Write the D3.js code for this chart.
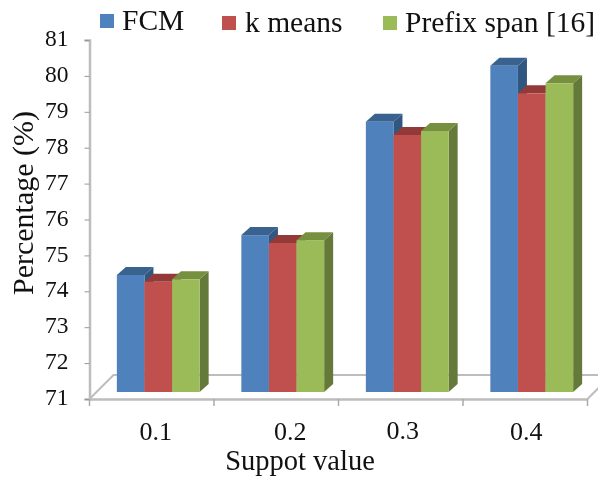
<!DOCTYPE html>
<html><head><meta charset="utf-8">
<script src="https://cdn.jsdelivr.net/npm/d3@7/dist/d3.min.js"></script>
<style>html,body{margin:0;background:#fff}svg{display:block;filter:blur(.5px)}text{font-family:"Liberation Serif",serif;fill:#111}</style>
</head><body><script>
const categories=["0.1","0.2","0.3","0.4"];
const seriesNames=["FCM","k means","Prefix span [16]"];
const fcm=[74.26,75.37,78.53,80.09];
const kmeans=[74.07,75.15,78.16,79.32];
const prefix=[74.14,75.23,78.27,79.6];
const yTicks=[71,72,73,74,75,76,77,78,79,80,81];
const seriesValues=[fcm,kmeans,prefix];
const front=["#4f81bd","#c0504d","#9bbb59"],top_=["#39628f","#933a38","#76903f"],side=["#315680","#7f3230","#64793a"];

const W=598,H=477;
const svg=d3.select("body").append("svg").attr("width",W).attr("height",H);
const y=d3.scaleLinear().domain([71,81]).range([399,40]);
const x=d3.scaleBand().domain(categories).range([89.5,587.5]);
const xs=d3.scaleBand().domain(d3.range(3)).range([0,82.8]);
const dx=6.5,dy=-7,depthX=9,depthY=8,floorD=24,grey="#bdbdbd";

// floor
svg.append("path").attr("fill","none").attr("stroke",grey).attr("stroke-width",2)
 .attr("d",`M${x.range()[0]},${y(71)}L${x.range()[0]+floorD},${y(71)-floorD}L${W},${y(71)-floorD}`);
svg.append("path").attr("fill","none").attr("stroke",grey).attr("stroke-width",2)
 .attr("d",`M${x.range()[1]},${y(71)}L${x.range()[1]+floorD},${y(71)-floorD}`);

// axes
const yAxis=svg.append("g").attr("transform",`translate(${x.range()[0]},0)`)
 .call(d3.axisLeft(y).tickValues(yTicks).tickSize(5).tickPadding(16));
yAxis.selectAll("text").attr("font-size",23.5).attr("dy","0.24em").style("font-family",'"Liberation Serif",serif');
const xAxis=svg.append("g").attr("transform",`translate(0,${y(71)})`)
 .call(d3.axisBottom(x).tickValues([]).tickSizeOuter(0));
svg.selectAll(".domain").attr("stroke",grey).attr("stroke-width",2.5);
yAxis.selectAll("line").attr("stroke","#999");
const edges=[...categories.map(c=>x(c)),x.range()[1]];
svg.selectAll(".xt").data(edges).join("line").attr("class","xt")
 .attr("x1",d=>d).attr("x2",d=>d).attr("y1",y(71)).attr("y2",y(71)+7).attr("stroke","#aaa").attr("stroke-width",1.5);

// bars
const groupOffset=(x.bandwidth()-82.8)/2+dx;
categories.forEach((c,i)=>{
  const g=svg.append("g").attr("transform",`translate(${x(c)+groupOffset},${dy})`);
  const base=y(71);
  seriesValues.forEach((vals,s)=>{
    const v=vals[i],x0=xs(s),x1=x0+xs.bandwidth(),t=y(v);
    g.append("path").attr("fill",side[s])
      .attr("d",`M${x1},${t}L${x1+depthX},${t-depthY}L${x1+depthX},${base-depthY}L${x1},${base}Z`);
    g.append("path").attr("fill",top_[s])
      .attr("d",`M${x0},${t}L${x0+depthX},${t-depthY}L${x1+depthX},${t-depthY}L${x1},${t}Z`);
  });
  seriesValues.forEach((vals,s)=>{
    const t=y(vals[i]);
    g.append("rect").attr("x",xs(s)).attr("y",t).attr("width",xs.bandwidth()).attr("height",base-t).attr("fill",front[s]);
  });
});

// category labels (placed by hand in the source figure)
const nudgeX=[4,14,2,1],nudgeY=[0,0,-1,0];
svg.selectAll(".cat").data(categories).join("text").attr("class","cat")
 .attr("x",(d,i)=>x(d)+x.bandwidth()/2+nudgeX[i]).attr("y",(d,i)=>440+nudgeY[i])
 .attr("text-anchor","middle").attr("font-size",26).text(d=>d);

svg.append("text").attr("x",300).attr("y",470).attr("text-anchor","middle").attr("font-size",28.5).text("Suppot value");
svg.append("text").attr("transform","translate(33,203) rotate(-90)").attr("text-anchor","middle").attr("font-size",30).text("Percentage (%)");

// legend
const legX=[100,222,383],legTextX=[122,245,405];
const leg=svg.selectAll(".leg").data(seriesNames).join("g").attr("class","leg");
leg.append("rect").attr("x",(d,i)=>legX[i]).attr("y",(d,i)=>i==0?14:16).attr("width",14).attr("height",14).attr("fill",(d,i)=>front[i]);
leg.append("text").attr("x",(d,i)=>legTextX[i]).attr("y",(d,i)=>i==0?30:32).attr("font-size",29.5).text(d=>d);
</script></body></html>
